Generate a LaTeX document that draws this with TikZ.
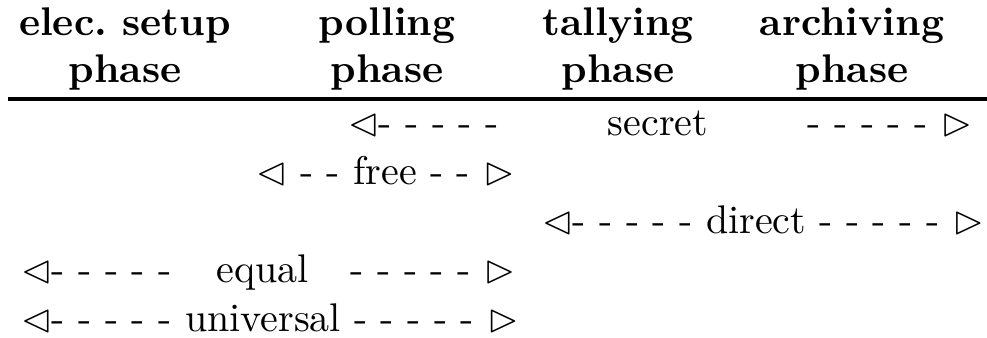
\documentclass[tikz,border=0pt]{standalone}
\usepackage{latexsym}
\begin{document}
\begin{tikzpicture}[x=0.25pt,y=-0.25pt,
  head/.style={inner sep=0pt,anchor=base,font=\bfseries},
  cell/.style={inner sep=0pt,anchor=base west},
  cellr/.style={inner sep=0pt,anchor=base east}]
\useasboundingbox (0,0) rectangle (987,337);

% column headings
\node[head] (h1a) at (125,35) {elec.\ setup};
\node[head] (h1b) at (125,82) {phase};
\node[head] (h2a) at (387,35) {polling};
\node[head] (h2b) at (387,82) {phase};
\node[head] (h3a) at (618,35) {tallying};
\node[head] (h3b) at (618,82) {phase};
\node[head] (h4a) at (852,35) {archiving};
\node[head] (h4b) at (852,82) {phase};

% rule below the headings
\coordinate (ruleL) at (8,99);
\coordinate (ruleR) at (987,99);
\draw[line width=0.8pt] (ruleL) -- (ruleR);

% secret: tallying phase onwards
\node[cell]  (s1) at (347,135) {$\lhd$- - - - -};
\node[cell]  (s2) at (607,135) {secret};
\node[cellr] (s3) at (973,135) {- - - - - $\rhd$};

% free: polling phase
\node[cell] (f1) at (255,184) {$\lhd$ - - free - - $\rhd$};

% direct: tallying and archiving
\node[cell] (d1) at (541,233) {$\lhd$- - - - - direct - - - - - $\rhd$};

% equal: setup and polling
\node[cell]  (e1) at (20,282) {$\lhd$- - - - -};
\node[cell]  (e2) at (216,282) {equal};
\node[cellr] (e3) at (516,282) {- - - - - $\rhd$};

% universal: setup and polling
\node[cell] (u1) at (20,331) {$\lhd$- - - - - universal - - - - - $\rhd$};
\end{tikzpicture}
\end{document}
